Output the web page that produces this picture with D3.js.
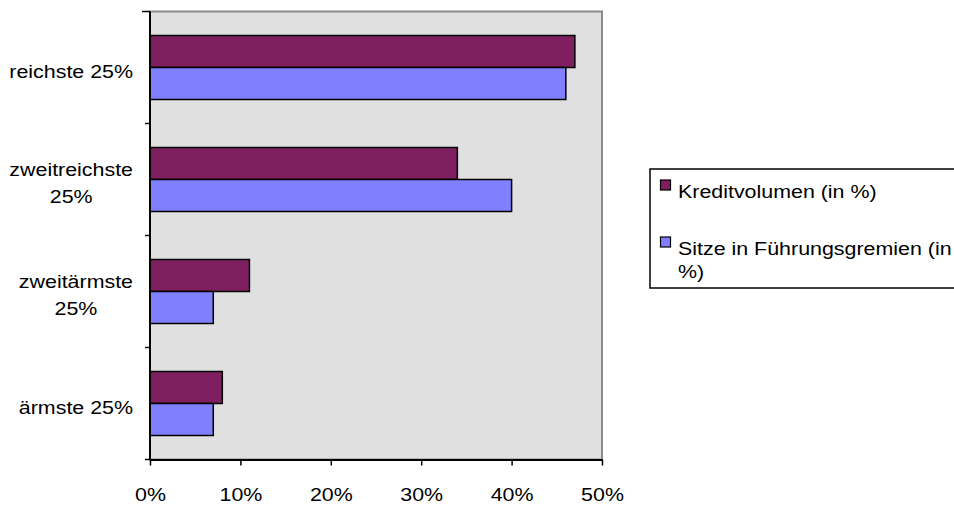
<!DOCTYPE html>
<html>
<head>
<meta charset="utf-8">
<script src="https://cdn.jsdelivr.net/npm/d3@7"></script>
<style>
  body { margin: 0; background: #fff; }
  text { font-family: Arial, "Liberation Sans", sans-serif; font-size: 18.3px; fill: #000; }
</style>
</head>
<body>
<svg width="954" height="505"></svg>
<script>
const categories = ["reichste 25%", "zweitreichste\n25%", "zweitärmste\n25%", "ärmste 25%"];
const seriesNames = ["Kreditvolumen (in %)", "Sitze in Führungsgremien (in\n%)"];
const kredit = [47, 34, 11, 8];
const sitze = [46, 40, 7, 7];
const xTicks = [0, 10, 20, 30, 40, 50];
const colors = ["#7F1F5F", "#8080FF"];

const stretch = "scale(1.17,1)";
const svg = d3.select("svg");
const plotL = 150, plotR = 602, plotT = 11.5, plotB = 459.5;

const x = d3.scaleLinear().domain([0, 50]).range([plotL, plotR]);
const y0 = d3.scaleBand().domain(categories).range([plotT, plotB]);
const y1 = d3.scaleBand().domain([0, 1]).range([0, y0.bandwidth()]).paddingOuter(0.75);

// plot area
svg.append("rect")
  .attr("x", plotL).attr("y", plotT)
  .attr("width", plotR - plotL).attr("height", plotB - plotT)
  .attr("fill", "#E0E0E0")
  .attr("stroke", "#8a8a8a").attr("stroke-width", 2);

// bars
const rows = categories.map((c, i) => ({ cat: c, vals: [kredit[i], sitze[i]] }));
const g = svg.append("g").selectAll("g")
  .data(rows).enter().append("g")
  .attr("transform", d => `translate(0,${y0(d.cat)})`);

g.selectAll("rect")
  .data(d => d.vals.map((v, j) => ({ v, j })))
  .enter().append("rect")
  .attr("x", x(0))
  .attr("y", d => y1(d.j))
  .attr("width", d => x(d.v) - x(0))
  .attr("height", y1.bandwidth())
  .attr("fill", d => colors[d.j])
  .attr("stroke", "#000").attr("stroke-width", 1.5);

// x axis
const xAxis = svg.append("g")
  .attr("transform", `translate(0,${plotB})`)
  .call(d3.axisBottom(x).tickValues(xTicks).tickFormat(d => d + "%").tickSize(6).tickSizeOuter(0));
xAxis.attr("font-family", null).attr("font-size", null);
xAxis.select(".domain").attr("stroke", "#000").attr("stroke-width", 2);
xAxis.selectAll(".tick line").attr("stroke", "#000").attr("stroke-width", 1.5);
xAxis.selectAll(".tick text")
  .attr("y", null).attr("dy", null)
  .attr("transform", "translate(0,41.5) " + stretch);

// y axis line + ticks at category boundaries
const bounds = categories.map(c => y0(c)).concat([plotB]);
svg.append("line")
  .attr("x1", plotL).attr("x2", plotL).attr("y1", plotT).attr("y2", plotB)
  .attr("stroke", "#000").attr("stroke-width", 2);
svg.append("g").selectAll("line")
  .data(bounds).enter().append("line")
  .attr("x1", (d, i) => i === 0 ? 142 : 145).attr("x2", plotL)
  .attr("y1", d => d).attr("y2", d => d)
  .attr("stroke", "#000").attr("stroke-width", 1.5);

// category labels
categories.forEach(c => {
  const lines = c.split("\n");
  const mid = y0(c) + y0.bandwidth() / 2;
  const texts = lines.map((t, k) => {
    const baseY = lines.length === 1 ? mid + 10 : mid - 4 + k * 27.7;
    return svg.append("text").text(t).attr("text-anchor", "middle").datum(baseY);
  });
  const widest = d3.max(texts, t => t.node().getComputedTextLength()) * 1.17;
  const cx = 133 - widest / 2;
  texts.forEach(t => t.attr("transform", `translate(${cx},${t.datum()}) ${stretch}`));
});

// legend
svg.append("rect")
  .attr("x", 650).attr("y", 169).attr("width", 330).attr("height", 119)
  .attr("fill", "#fff").attr("stroke", "#000").attr("stroke-width", 1.5);
const legendY = [185, 242];
seriesNames.forEach((name, i) => {
  svg.append("rect")
    .attr("x", 660.5).attr("y", legendY[i] - 5)
    .attr("width", 10).attr("height", 10)
    .attr("fill", colors[i]).attr("stroke", "#000").attr("stroke-width", 1.2);
  name.split("\n").forEach((t, k) => {
    svg.append("text").text(t)
      .attr("transform", `translate(678,${legendY[i] + 13 + k * 23}) ${stretch}`);
  });
});
</script>
</body>
</html>
